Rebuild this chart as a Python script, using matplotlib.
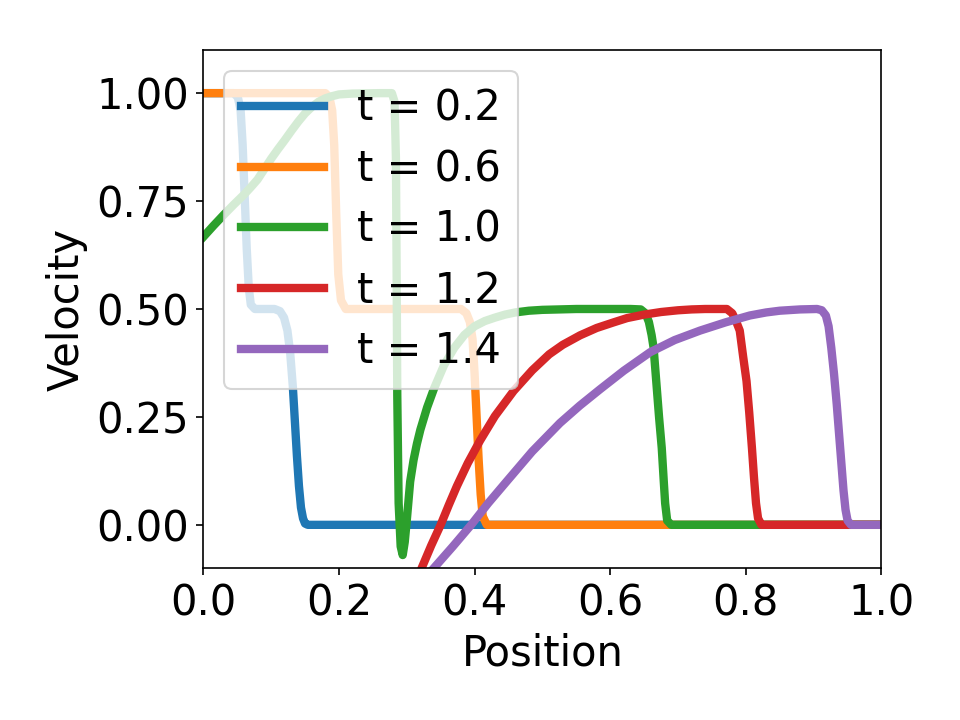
import matplotlib
matplotlib.use("Agg")
import matplotlib.pyplot as plt

plt.rcParams.update({"font.size": 20})

LABELS = ["t = 0.2", "t = 0.6", "t = 1.0", "t = 1.2", "t = 1.4"]

# --- velocity profiles -------------------------------------------------------
x_02 = [0.0, 0.045, 0.051, 0.055, 0.058, 0.061, 0.064, 0.067, 0.070, 0.076,
        0.09, 0.105, 0.113, 0.119, 0.124, 0.128, 0.132, 0.135, 0.138, 0.141,
        0.144, 0.147, 0.150, 0.154, 0.17, 1.0]
u_02 = [1.0, 1.0, 0.99, 0.96, 0.88, 0.76, 0.64, 0.55, 0.51, 0.50,
        0.50, 0.50, 0.495, 0.48, 0.45, 0.40, 0.32, 0.24, 0.16, 0.09,
        0.04, 0.015, 0.003, 0.0, 0.0, 0.0]

x_06 = [0.0, 0.180, 0.186, 0.190, 0.193, 0.196, 0.199, 0.203, 0.21, 0.25,
        0.38, 0.388, 0.393, 0.397, 0.400, 0.403, 0.406, 0.409, 0.412, 0.418,
        0.43, 1.0]
u_06 = [1.0, 1.0, 0.99, 0.96, 0.88, 0.72, 0.58, 0.52, 0.50, 0.50,
        0.50, 0.49, 0.47, 0.43, 0.35, 0.25, 0.15, 0.07, 0.02, 0.0,
        0.0, 0.0]

x_10 = [0.0, 0.015, 0.03, 0.045, 0.06, 0.07, 0.08, 0.09, 0.10, 0.11,
        0.12, 0.13, 0.14, 0.15, 0.16, 0.17, 0.18, 0.19, 0.20, 0.22,
        0.26, 0.278, 0.282, 0.284, 0.285, 0.286, 0.288, 0.291, 0.294, 0.297,
        0.300, 0.305, 0.31, 0.315, 0.32, 0.33, 0.34, 0.355, 0.37, 0.385,
        0.40, 0.415, 0.43, 0.445, 0.46, 0.48, 0.50, 0.55, 0.63, 0.645,
        0.652, 0.657, 0.661, 0.664, 0.668, 0.672, 0.676, 0.679, 0.681, 0.684,
        0.69, 1.0]
u_10 = [0.667, 0.693, 0.718, 0.742, 0.765, 0.782, 0.80, 0.824, 0.848, 0.87,
        0.891, 0.913, 0.934, 0.953, 0.968, 0.98, 0.988, 0.993, 0.997, 0.999,
        1.0, 1.0, 0.98, 0.85, 0.6, 0.3, 0.05, -0.05, -0.07, -0.04,
        0.01, 0.10, 0.15, 0.188, 0.22, 0.272, 0.315, 0.37, 0.41, 0.44,
        0.46, 0.472, 0.48, 0.487, 0.492, 0.496, 0.498, 0.5, 0.5, 0.499,
        0.49, 0.47, 0.44, 0.41, 0.33, 0.25, 0.178, 0.10, 0.05, 0.01,
        0.0, 0.0]

x_12 = [0.30, 0.322, 0.336, 0.35, 0.362, 0.374, 0.39, 0.408, 0.43, 0.4575,
        0.485, 0.51, 0.53, 0.5556, 0.58, 0.605, 0.625, 0.65, 0.675, 0.70,
        0.72, 0.74, 0.772, 0.780, 0.786, 0.791, 0.796, 0.801, 0.805, 0.809,
        0.812, 0.815, 0.818, 0.823, 0.83, 1.0]
u_12 = [-0.19, -0.1, -0.048, 0.0, 0.046, 0.09, 0.143, 0.195, 0.252, 0.31,
        0.358, 0.395, 0.417, 0.439, 0.456, 0.469, 0.479, 0.487, 0.493, 0.497,
        0.499, 0.50, 0.50, 0.49, 0.47, 0.45, 0.39, 0.333, 0.26, 0.178,
        0.11, 0.05, 0.015, 0.0, 0.0, 0.0]

x_14 = [0.30, 0.340, 0.368, 0.395, 0.42, 0.447, 0.485, 0.526, 0.555, 0.585,
        0.62, 0.659, 0.695, 0.7325, 0.77, 0.806, 0.83, 0.85, 0.88, 0.905,
        0.912, 0.918, 0.922, 0.926, 0.930, 0.934, 0.938, 0.941, 0.944, 0.947,
        0.950, 0.955, 0.97, 1.0]
u_14 = [-0.17, -0.1, -0.05, 0.0, 0.05, 0.10, 0.17, 0.236, 0.276, 0.314,
        0.357, 0.40, 0.428, 0.45, 0.469, 0.485, 0.492, 0.496, 0.499, 0.50,
        0.497, 0.485, 0.46, 0.41, 0.35, 0.28, 0.20, 0.14, 0.08, 0.035,
        0.01, 0.0, 0.0, 0.0]

XS = [x_02, x_06, x_10, x_12, x_14]
US = [u_02, u_06, u_10, u_12, u_14]

fig, ax = plt.subplots(figsize=(6.4, 4.8), dpi=150)
for xs, us, lab in zip(XS, US, LABELS):
    ax.plot(xs, us, lw=4, label=lab)

ax.set_xlim(0, 1)
ax.set_ylim(-0.1, 1.1)
ax.set_xlabel("Position")
ax.set_ylabel("Velocity")
ax.legend(loc="upper left", labelspacing=0.45)
fig.subplots_adjust(left=0.2118, right=0.9182, bottom=0.2111, top=0.9306)
fig.savefig("out.png", dpi=150)
